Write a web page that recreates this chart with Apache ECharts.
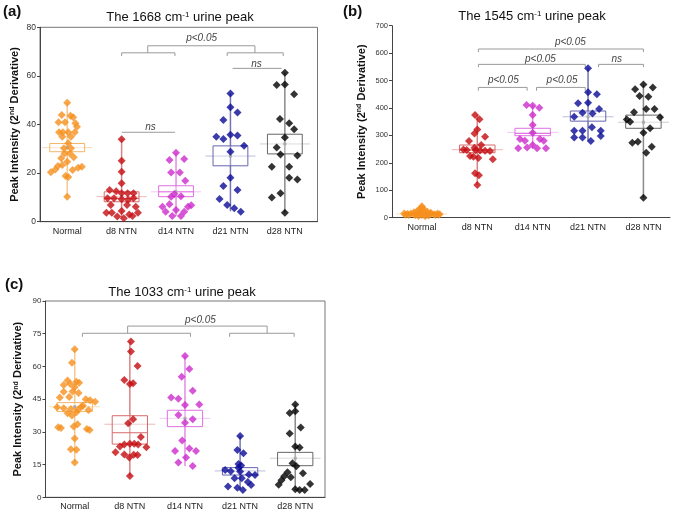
<!DOCTYPE html>
<html>
<head>
<meta charset="utf-8">
<script src="https://cdn.jsdelivr.net/npm/echarts@6/dist/echarts.min.js"></script>
<style>
html, body { margin: 0; padding: 0; background: #fff; }
#main { width: 675px; height: 514px; }
</style>
</head>
<body>
<div id="main"></div>
<script>
var groups = ['Normal', 'd8 NTN', 'd14 NTN', 'd21 NTN', 'd28 NTN'];

// points are [value, horizontal jitter in category units]
// (a) 1668 cm-1
var a_normal = [[49.0,0.0],[43.9,-0.10],[43.6,0.06],[43.0,0.11],[40.9,-0.16],[40.9,-0.04],[40.5,0.15],[39.1,0.18],
  [36.8,-0.15],[36.8,-0.08],[36.8,0.02],[36.8,0.14],[35.0,-0.09],[35.0,0.07],[32.3,0.02],[30.2,-0.06],[30.2,0.07],
  [28.1,-0.05],[28.1,0.05],[26.1,-0.11],[26.5,0.12],[24.7,0.0],[22.9,-0.17],[23.3,-0.09],[22.6,0.27],[22.2,0.20],
  [21.3,0.10],[20.3,-0.30],[21.5,-0.22],[18.8,-0.03],[18.4,0.02],[10.3,0.0]];
var a_d8 = [[33.9,0],[25.1,0],[20.6,0],[15.8,0],[13.0,-0.22],[12.5,-0.10],[11.7,0.0],[11.7,0.11],[11.7,0.22],
  [9.6,-0.26],[9.6,-0.14],[9.2,0.0],[9.0,0.12],[9.6,0.22],[6.9,-0.20],[6.9,0.10],[6.2,0.26],
  [3.7,-0.28],[3.7,-0.18],[4.4,0.0],[3.0,0.14],[3.7,0.30],[2.1,-0.08],[1.4,0.04],[2.3,0.20]];
var a_d14 = [[28.4,0],[25.8,0.15],[25.4,-0.12],[20.2,-0.09],[20.2,0.07],[16.9,0.17],[11.4,-0.03],[10.3,-0.09],
  [10.5,0.09],[7.2,-0.12],[6.2,-0.25],[6.2,0.22],[6.8,0.28],[4.1,-0.19],[4.8,0.0],[4.1,0.15],[2.3,-0.07],[2.3,0.09]];
var a_d21 = [[52.8,0],[47.1,0],[44.9,0.13],[41.9,-0.13],[35.0,-0.26],[34.0,-0.13],[35.8,0],[35.5,0.13],[31.3,0.25],
  [28.8,0],[18.1,0],[14.7,-0.13],[13.0,0.13],[9.3,-0.20],[6.9,-0.06],[5.5,0.07],[4.1,0.19]];
var a_d28 = [[61.3,0],[56.3,-0.15],[56.5,0],[52.5,0.17],[42.3,-0.09],[40.5,0.08],[38.0,0.17],[34.6,0],[30.5,-0.15],
  [27.7,-0.08],[27.2,0.23],[22.6,-0.24],[22.6,0.08],[18.1,0.08],[17.4,0.23],[11.7,-0.08],[10.0,-0.24],[3.7,0]];
// box stats: [min, q1, median, q3, max, mean]
var a_stats = [[10.3,28.8,null,32.2,49.0,30.5],[1.4,8.2,9.6,12.3,33.9,10.3],[2.3,10.3,12.3,14.8,28.4,12.3],
  [4.3,23.0,null,31.2,52.8,27.0],[3.7,27.9,null,36.0,61.3,32.0]];
// brackets: [x1, x2, y, drop]
var a_brackets = [[1.48,3.45,72.4,2.9],[1.0,1.98,69.5,1.3],[2.94,3.97,69.5,1.3],[3.04,3.94,63.1,0],[1.0,1.98,36.8,0]];
var a_notes = [[2.47,75.6,'p<0.05'],[3.48,65.0,'ns'],[1.53,38.9,'ns']];

// (b) 1545 cm-1
var b_normal = [[42,0.0],[36,0.0],[31,-0.04],[30,0.04],[25,-0.08],[24,0.03],[22,0.10],[20,-0.14],[19,-0.04],[18,0.16],
  [15,-0.32],[14,-0.26],[15,-0.20],[13,-0.14],[15,-0.08],[14,-0.02],[13,0.04],[15,0.10],[14,0.16],[13,0.22],[15,0.28],[13,0.32],
  [10,-0.24],[9,-0.12],[10,0.0],[8,0.12],[10,0.24],[6,-0.06],[5,0.06],[11,-0.30],[11,0.30]];
var b_d8 = [[374,-0.04],[359,0.04],[322,0.0],[307,-0.05],[295,0.14],[280,-0.15],[265,0.07],[255,-0.05],[249,-0.25],
  [247,-0.19],[246,-0.03],[245,0.05],[244,0.14],[243,0.23],[225,-0.13],[222,-0.07],[218,0.02],[213,0.28],[162,-0.04],[155,0.03],[119,0]];
var b_d14 = [[411,-0.11],[408,0.0],[401,0.12],[374,0],[338,0],[310,0],[287,-0.23],[281,-0.14],[287,0.13],[281,0.20],
  [265,0],[253,-0.26],[256,-0.10],[253,0.08],[253,0.24]];
var b_d21 = [[545,0],[457,0],[450,0.16],[417,-0.18],[419,0],[396,0.20],[383,-0.10],[380,0.08],[368,-0.25],[330,0.07],
  [317,-0.25],[317,-0.10],[317,0.23],[298,0.23],[292,-0.25],[292,-0.10],[280,0.05]];
var b_d28 = [[486,0],[475,0.17],[468,-0.15],[444,-0.07],[441,0.09],[396,0.05],[396,0.20],[384,-0.17],[358,-0.30],
  [350,-0.24],[366,0.30],[326,0.12],[310,0.0],[277,-0.10],[273,-0.20],[259,0.15],[237,0.05],[73,0]];
var b_stats = [[4,10,13,17,42,14],[119,237,247,265,374,248],[253,299,307,326,411,311],
  [280,352,null,389,545,368],[73,326,null,374,486,348]];
var b_brackets = [[1.02,4.0,615,11],[1.02,2.95,559,10],[3.19,4.0,559,10],[1.02,1.9,475,12],[2.07,2.95,475,12]];
var b_notes = [[2.68,638,'p<0.05'],[2.14,579,'p<0.05'],[3.52,579,'ns'],[1.47,500,'p<0.05'],[2.53,500,'p<0.05']];

// (c) 1033 cm-1
var c_normal = [[67.9,0.0],[61.7,-0.05],[53.5,-0.13],[53.0,0.03],[52.5,0.08],[52.0,-0.08],[51.5,-0.20],[50.5,0.0],
  [48.4,-0.20],[48.5,-0.04],[47.8,0.07],[45.8,-0.27],[46.0,-0.10],[45.0,0.20],[44.5,0.28],[43.8,0.37],[42.0,0.15],
  [41.3,-0.32],[40.8,-0.20],[40.5,-0.07],[40.2,0.06],[41.5,0.12],[40.0,0.25],[38.5,-0.13],[37.5,-0.05],[39.0,0.03],
  [32.1,-0.30],[31.8,-0.25],[32.5,-0.02],[33.5,0.05],[31.3,0.22],[30.8,0.27],[27.0,0.0],[22.0,-0.07],[21.8,0.03],[15.9,0.0]];
var c_d8 = [[71.4,0.02],[66.8,0.02],[60.2,0.14],[53.8,-0.10],[52.0,0.0],[52.3,0.06],[35.8,0.06],[34.0,-0.03],[27.6,0.20],
  [23.0,0.30],[20.6,-0.26],[23.3,-0.18],[24.2,-0.10],[24.5,0.0],[24.6,0.08],[24.2,0.15],[19.6,-0.10],[18.2,-0.01],
  [19.5,0.07],[19.4,0.14],[9.8,0]];
var c_d14 = [[64.8,0.0],[58.8,0.08],[55.3,-0.06],[48.9,0.14],[45.8,-0.25],[45.2,-0.12],[42.3,0.0],[42.6,0.26],[37.7,-0.12],
  [35.8,0.14],[34.2,0.0],[26.0,-0.05],[22.4,0.08],[21.2,-0.18],[21.2,0.20],[18.3,0.02],[15.9,-0.12],[14.4,0.14]];
var c_d21 = [[28.1,0],[21.7,-0.05],[20.2,0.06],[15.3,-0.03],[14.6,0.02],[13.5,-0.03],[12.5,-0.27],[12.0,-0.17],[11.8,0.0],
  [10.5,0.16],[10.2,0.27],[8.7,-0.10],[8.7,0.03],[7.0,0.14],[5.6,0.20],[4.9,-0.22],[4.4,-0.05],[3.3,0.05]];
var c_d28 = [[42.6,0],[38.6,-0.10],[39.4,0.0],[32.0,0.10],[29.3,-0.10],[23.3,0.0],[22.8,0.08],[15.6,-0.05],[14.2,0.02],
  [11.5,-0.14],[11.0,0.14],[9.6,-0.20],[9.2,-0.08],[7.8,-0.25],[5.8,-0.30],[6.1,0.27],[3.7,0.0],[3.4,0.08],[3.4,0.17]];
var c_stats = [[15.9,39.3,null,43.4,67.9,41.5],[9.8,24.4,29.6,37.4,71.4,33.5],[14.4,32.4,null,39.9,64.8,36.2],
  [3.3,10.2,null,13.6,28.1,12.1],[3.4,14.5,null,20.6,42.6,17.9]];
var c_brackets = [[0.96,3.49,78.5,3.3],[0.14,2.1,75.2,1.6],[2.81,3.98,75.2,1.6]];
var c_notes = [[2.28,81.0,'p<0.05']];

var dotColors = ['#f5901e', '#c40c12', '#cc2ccc', '#0a0a96', '#000000'];
var boxColors = ['#f3b468', '#d66a6a', '#e070e0', '#6666b0', '#666666'];
var whiskerColors = ['#f6c88e', '#d98484', '#e48ce4', '#7373b8', '#8a8a8a'];
var meanColors = ['#f9dcb8', '#ebb8b8', '#f2c6f2', '#bdbddc', '#cfcfcf'];

var FONT = 'Liberation Sans, Arial, sans-serif';
var chart = echarts.init(document.getElementById('main'));

function boxItem(params, api) {
  var i = api.value(0);
  var mn = api.value(1), q1 = api.value(2), md = api.value(3), q3 = api.value(4), mx = api.value(5), mean = api.value(6);
  var w = 0.32, mw = 0.46;
  var top = api.coord([i, mx]), bot = api.coord([i, mn]);
  var tl = api.coord([i - w, q3]), br = api.coord([i + w, q1]);
  var ml = api.coord([i - mw, mean]), mr = api.coord([i + mw, mean]);
  var kids = [
    {type: 'line', shape: {x1: ml[0], y1: ml[1], x2: mr[0], y2: mr[1]}, style: {stroke: meanColors[i], lineWidth: 1}},
    {type: 'line', shape: {x1: top[0], y1: top[1], x2: bot[0], y2: bot[1]}, style: {stroke: whiskerColors[i], lineWidth: 1.5}},
    {type: 'rect', shape: {x: tl[0], y: tl[1], width: br[0] - tl[0], height: br[1] - tl[1]},
      style: {fill: 'rgba(255,255,255,0.3)', stroke: boxColors[i], lineWidth: 1}}
  ];
  if (!isNaN(md)) {
    var a = api.coord([i - w, md]), b = api.coord([i + w, md]);
    kids.push({type: 'line', shape: {x1: a[0], y1: a[1], x2: b[0], y2: b[1]}, style: {stroke: boxColors[i], lineWidth: 1}});
  }
  var mk = api.coord([i, mean]);
  kids.push({type: 'rect', shape: {x: mk[0] - 1.5, y: mk[1] - 1.5, width: 3, height: 3}, style: {fill: '#aaaaaa'}});
  return {type: 'group', children: kids};
}

function bracketItem(params, api) {
  var x1 = api.value(0), x2 = api.value(1), y = api.value(2), d = api.value(3);
  var pts = d > 0 ? [[x1, y - d], [x1, y], [x2, y], [x2, y - d]] : [[x1, y], [x2, y]];
  return {
    type: 'polyline',
    shape: {points: pts.map(function (p) { return api.coord(p); })},
    style: {stroke: '#9a9a9a', lineWidth: 1, fill: null}
  };
}

function noteRenderer(notes) {
  return function (params, api) {
    var p = api.coord([api.value(0), api.value(1)]);
    return {
      type: 'text', x: p[0], y: p[1],
      style: {text: notes[params.dataIndex][2], fill: '#444', font: 'italic 10px ' + FONT,
        align: 'center', verticalAlign: 'middle', textAlign: 'center', textVerticalAlign: 'middle'}
    };
  };
}

function panelSeries(k, pointSets, stats, brackets, notes) {
  var out = [];
  out.push({
    type: 'custom', xAxisIndex: k, yAxisIndex: k, z: 1, renderItem: boxItem,
    encode: {x: 0, y: [1, 5]},
    data: stats.map(function (s, i) {
      return [i, s[0], s[1], s[2] == null ? '-' : s[2], s[3], s[4], s[5]];
    })
  });
  out.push({
    type: 'custom', xAxisIndex: k, yAxisIndex: k, z: 1, renderItem: bracketItem,
    encode: {x: [0, 1], y: 2}, data: brackets
  });
  out.push({
    type: 'custom', xAxisIndex: k, yAxisIndex: k, z: 1, renderItem: noteRenderer(notes),
    encode: {x: 0, y: 1}, data: notes.map(function (n) { return [n[0], n[1]]; })
  });
  pointSets.forEach(function (pts, i) {
    out.push({
      type: 'scatter', xAxisIndex: k, yAxisIndex: k, z: 3,
      symbol: 'diamond', symbolSize: 8,
      itemStyle: {color: dotColors[i]},
      data: pts.map(function (p) { return [i + p[1], p[0]]; })
    });
  });
  return out;
}

function xAxisCfg(k, min, max) {
  return {
    type: 'value', gridIndex: k, min: min, max: max,
    splitLine: {show: false}, axisTick: {show: false},
    axisLine: {show: true, onZero: false, lineStyle: {color: '#444', width: 1}},
    axisLabel: {customValues: [0, 1, 2, 3, 4], margin: 5, fontSize: 9, color: '#222', fontFamily: FONT,
      formatter: function (v) { return groups[Math.round(v)] || ''; }}
  };
}

function yAxisCfg(k, max, step, gap, labSize) {
  return {
    type: 'value', gridIndex: k, min: 0, max: max, interval: step,
    splitLine: {show: false},
    axisLine: {show: true, onZero: false, lineStyle: {color: '#444', width: 1}},
    axisTick: {show: true, length: 3, lineStyle: {color: '#444'}},
    axisLabel: {fontSize: labSize, color: '#333', margin: 4, fontFamily: FONT},
    name: 'Peak Intensity (2{sup|nd} Derivative)', nameLocation: 'middle', nameGap: gap,
    nameTextStyle: {fontSize: 11, fontWeight: 'bold', color: '#111', fontFamily: FONT,
      rich: {sup: {fontSize: 7, fontWeight: 'bold', color: '#111', verticalAlign: 'top', fontFamily: FONT}}}
  };
}

function titleCfg(text, left, top) {
  return {
    text: text, left: left, top: top, textAlign: 'center', padding: 0,
    textStyle: {fontSize: 13, fontWeight: 'normal', color: '#111', fontFamily: FONT,
      rich: {sup: {fontSize: 8, color: '#111', verticalAlign: 'top', fontFamily: FONT}}}
  };
}

function tagCfg(text, left, top) {
  return {text: text, left: left, top: top, padding: 0,
    textStyle: {fontSize: 15, fontWeight: 'bold', color: '#111', fontFamily: FONT}};
}

var series = []
  .concat(panelSeries(0, [a_normal, a_d8, a_d14, a_d21, a_d28], a_stats, a_brackets, a_notes))
  .concat(panelSeries(1, [b_normal, b_d8, b_d14, b_d21, b_d28], b_stats, b_brackets, b_notes))
  .concat(panelSeries(2, [c_normal, c_d8, c_d14, c_d21, c_d28], c_stats, c_brackets, c_notes));

chart.setOption({
  animation: false,
  backgroundColor: '#fff',
  title: [
    tagCfg('(a)', 3, 4),
    titleCfg('The 1668 cm{sup|-1} urine peak', 180, 11),
    tagCfg('(b)', 343, 4),
    titleCfg('The 1545 cm{sup|-1} urine peak', 532, 10),
    tagCfg('(c)', 5, 277),
    titleCfg('The 1033 cm{sup|-1} urine peak', 182, 286)
  ],
  grid: [
    {left: 40, top: 27.3, width: 277.5, height: 194.4, show: true, borderColor: '#777', borderWidth: 1},
    {left: 392, top: 25.7, width: 278, height: 192},
    {left: 45.5, top: 301, width: 279.5, height: 196.3, show: true, borderColor: '#777', borderWidth: 1}
  ],
  xAxis: [xAxisCfg(0, -0.5, 4.6), xAxisCfg(1, -0.54, 4.48), xAxisCfg(2, -0.53, 4.54)],
  yAxis: [yAxisCfg(0, 80, 20, 20, 8.5), yAxisCfg(1, 700, 100, 25, 7.5), yAxisCfg(2, 90, 15, 22, 8)],
  series: series
});
</script>
</body>
</html>
